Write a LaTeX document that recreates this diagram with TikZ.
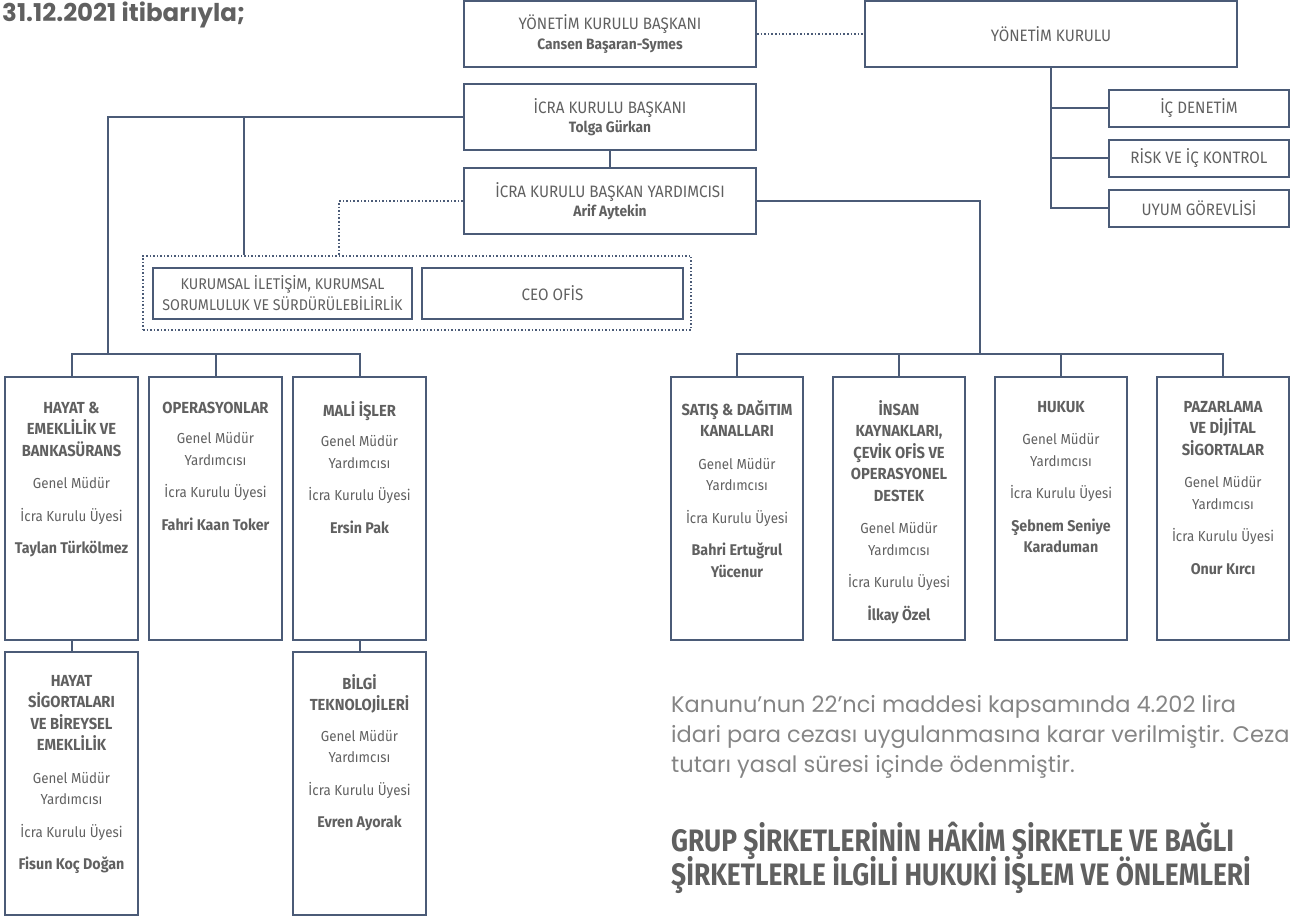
\documentclass[tikz,border=0pt]{standalone}
\usepackage{fontspec}
\setmainfont{Fira Sans}[FakeStretch=0.92]
\newfontfamily\parafont{Poppins}
\newfontfamily\headfont{Fira Sans}[FakeStretch=0.85]
\usetikzlibrary{positioning}
\definecolor{linecol}{HTML}{4B5B77}
\definecolor{txtgray}{HTML}{606060}
\definecolor{paragray}{HTML}{858585}
\newcommand{\hd}[1]{{\fontsize{16}{21.5}\selectfont\bfseries #1}}
\newcommand{\nm}[1]{{\fontsize{15.5}{21.5}\selectfont\bfseries #1}}
\newcommand{\fs}{\rule{0pt}{12pt}}
\newcommand{\headfnt}{\headfont\bfseries\fontsize{31}{34}\selectfont\lineskiplimit=-30pt\relax}

\begin{document}
\begin{tikzpicture}[x=1pt, y=-1pt]
  \tikzstyle{wire}=[draw=linecol, line width=2pt]
  \tikzstyle{dotwire}=[draw=linecol, line width=1.6pt, dotted]
  \tikzstyle{box}=[draw=linecol, line width=2pt, inner sep=0pt, align=center, text=txtgray, font=\fontsize{16.5}{19.5}\selectfont]
  \tikzstyle{small}=[box, minimum width=180pt, minimum height=37pt]
  \tikzstyle{tall}=[draw=linecol, line width=2pt, minimum height=263pt, inner sep=0pt]
  \tikzstyle{tallt}=[align=center, inner sep=0pt, text=txtgray, font=\fontsize{14.5}{21.5}\selectfont]
\useasboundingbox (0,0) rectangle (1293,917);

\node[anchor=west, inner sep=0pt, text=txtgray, font=\parafont\fontsize{24.5}{28}\selectfont\bfseries] (title) at (2,15) {31.12.2021 itibarıyla;};

% yonetim
\node[box, minimum width=292pt, minimum height=66pt] (ykb) at (610,34) {YÖNETİM KURULU BAŞKANI\\{\fontsize{15}{19.5}\selectfont\bfseries Cansen Başaran-Symes}};
\node[box, minimum width=372pt, minimum height=66pt] (yk) at (1051,34) {YÖNETİM KURULU};
\foreach \nm/\txt/\yy in {icden/İÇ DENETİM/108.5, risk/RİSK VE İÇ KONTROL/158.5, uyum/UYUM GÖREVLİSİ/208.5}{
  \node[small] (\nm) at (1199,\yy) {\txt};
  \draw[wire] (yk.south) |- (\nm.west);
}
\draw[dotwire] (ykb.east) -- (yk.west);

% icra
\node[box, minimum width=292pt, minimum height=66pt] (ceo) at (610,117) {İCRA KURULU BAŞKANI\\{\fontsize{15}{19.5}\selectfont\bfseries Tolga Gürkan}};
\node[box, minimum width=292pt, minimum height=66pt] (yrd) at (610,201) {İCRA KURULU BAŞKAN YARDIMCISI\\{\fontsize{15}{19.5}\selectfont\bfseries Arif Aytekin}};
\draw[wire] (ceo.south) -- (yrd.north);

% ceo ofis grubu
\node[draw=linecol, line width=1.5pt, dotted, minimum width=548pt, minimum height=74pt, inner sep=0pt] (ofis) at (417,293) {};
\node[box, minimum width=259pt, minimum height=51pt, font=\fontsize{15.5}{21}\selectfont] (kurumsal) at (282.5,293.5) {KURUMSAL İLETİŞİM, KURUMSAL\\SORUMLULUK VE SÜRDÜRÜLEBİLİRLİK};
\node[box, minimum width=261pt, minimum height=51pt] (ceoofis) at (552.5,293.5) {CEO OFİS};

% sol birimler
\node[tall, minimum width=133pt] (hayat) at (71.5,508.5) {};
\node[tall, minimum width=133pt] (ops) at (215.5,508.5) {};
\node[tall, minimum width=133pt] (mali) at (359.5,508.5) {};
\node[tall, minimum width=133pt] (hayatsig) at (71.5,783.5) {};
\node[tall, minimum width=133pt] (bilgi) at (359.5,783.5) {};

\node[tallt, below=25pt of hayat.north] (hayat-t) {\fs\hd{HAYAT \&}\\\hd{EMEKLİLİK VE}\\\hd{BANKASÜRANS}\\[11pt]Genel Müdür\\[11pt]İcra Kurulu Üyesi\\[11pt]\nm{Taylan Türkölmez}};
\node[tallt, below=25pt of ops.north] (ops-t) {\fs\hd{OPERASYONLAR}\\[9pt]Genel Müdür\\Yardımcısı\\[11pt]İcra Kurulu Üyesi\\[11pt]\nm{Fahri Kaan Toker}};
\node[tallt, below=25pt of mali.north] (mali-t) {\fs\hd{MALİ İŞLER}\\[9pt]Genel Müdür\\Yardımcısı\\[11pt]İcra Kurulu Üyesi\\[11pt]\nm{Ersin Pak}};
\node[tallt, below=23pt of hayatsig.north] (hayatsig-t) {\fs\hd{HAYAT}\\\hd{SİGORTALARI}\\\hd{VE BİREYSEL}\\\hd{EMEKLİLİK}\\[11pt]Genel Müdür\\Yardımcısı\\[11pt]İcra Kurulu Üyesi\\[11pt]\nm{Fisun Koç Doğan}};
\node[tallt, below=23pt of bilgi.north] (bilgi-t) {\fs\hd{BİLGİ}\\\hd{TEKNOLOJİLERİ}\\[9pt]Genel Müdür\\Yardımcısı\\[11pt]İcra Kurulu Üyesi\\[11pt]\nm{Evren Ayorak}};

% sag birimler
\node[tall, minimum width=132pt] (satis) at (737,508.5) {};
\node[tall, minimum width=132pt] (insan) at (899,508.5) {};
\node[tall, minimum width=132pt] (hukuk) at (1061,508.5) {};
\node[tall, minimum width=132pt] (pazar) at (1223,508.5) {};

\node[tallt, below=24pt of satis.north] (satis-t) {\fs\hd{SATIŞ \& DAĞITIM}\\\hd{KANALLARI}\\[11pt]Genel Müdür\\Yardımcısı\\[11pt]İcra Kurulu Üyesi\\[11pt]\nm{Bahri Ertuğrul}\\\nm{Yücenur}};
\node[tallt, below=24pt of insan.north] (insan-t) {\fs\hd{İNSAN}\\\hd{KAYNAKLARI,}\\\hd{ÇEVİK OFİS VE}\\\hd{OPERASYONEL}\\\hd{DESTEK}\\[11pt]Genel Müdür\\Yardımcısı\\[11pt]İcra Kurulu Üyesi\\[11pt]\nm{İlkay Özel}};
\node[tallt, below=24pt of hukuk.north] (hukuk-t) {\fs\hd{HUKUK}\\[11pt]Genel Müdür\\Yardımcısı\\[11pt]İcra Kurulu Üyesi\\[11pt]\nm{Şebnem Seniye}\\\nm{Karaduman}};
\node[tallt, below=24pt of pazar.north] (pazar-t) {\fs\hd{PAZARLAMA}\\\hd{VE DİJİTAL}\\\hd{SİGORTALAR}\\[11pt]Genel Müdür\\Yardımcısı\\[11pt]İcra Kurulu Üyesi\\[11pt]\nm{Onur Kırcı}};

% baglantilar
\coordinate (lbar) at (108,354);
\coordinate (rbar) at (980,354);
\coordinate (ofisjoin) at (244,117);
\coordinate (dotdrop) at (339,256);
\draw[wire] (ceo.west) -| (lbar);
\draw[wire] (ofisjoin) -- (ofisjoin |- ofis.north);
\draw[dotwire] (yrd.west) -| (dotdrop);
\draw[wire] (yrd.east) -| (rbar);
\draw[wire] (hayat.north) |- (lbar) -| (mali.north);
\draw[wire] (ops.north) -- (ops.north |- lbar);
\draw[wire] (satis.north) |- (rbar) -| (pazar.north);
\draw[wire] (insan.north) -- (insan.north |- rbar);
\draw[wire] (hukuk.north) -- (hukuk.north |- rbar);
\draw[wire] (hayat.south) -- (hayatsig.north);
\draw[wire] (mali.south) -- (bilgi.north);

% metin
\node[anchor=north west, align=left, inner sep=0pt, text=paragray, font=\parafont\fontsize{22.5}{30}\selectfont] (para) at (671,695) {Kanunu’nun 22’nci maddesi kapsamında 4.202 lira\\idari para cezası uygulanmasına karar verilmiştir. Ceza\\tutarı yasal süresi içinde ödenmiştir.};
\node[anchor=north west, align=left, inner sep=0pt, text=txtgray, font=\headfnt] (grup) at (671,822) {GRUP ŞİRKETLERİNİN HÂKİM ŞİRKETLE VE BAĞLI\\ŞİRKETLERLE İLGİLİ HUKUKİ İŞLEM VE ÖNLEMLERİ};
\end{tikzpicture}
\end{document}
